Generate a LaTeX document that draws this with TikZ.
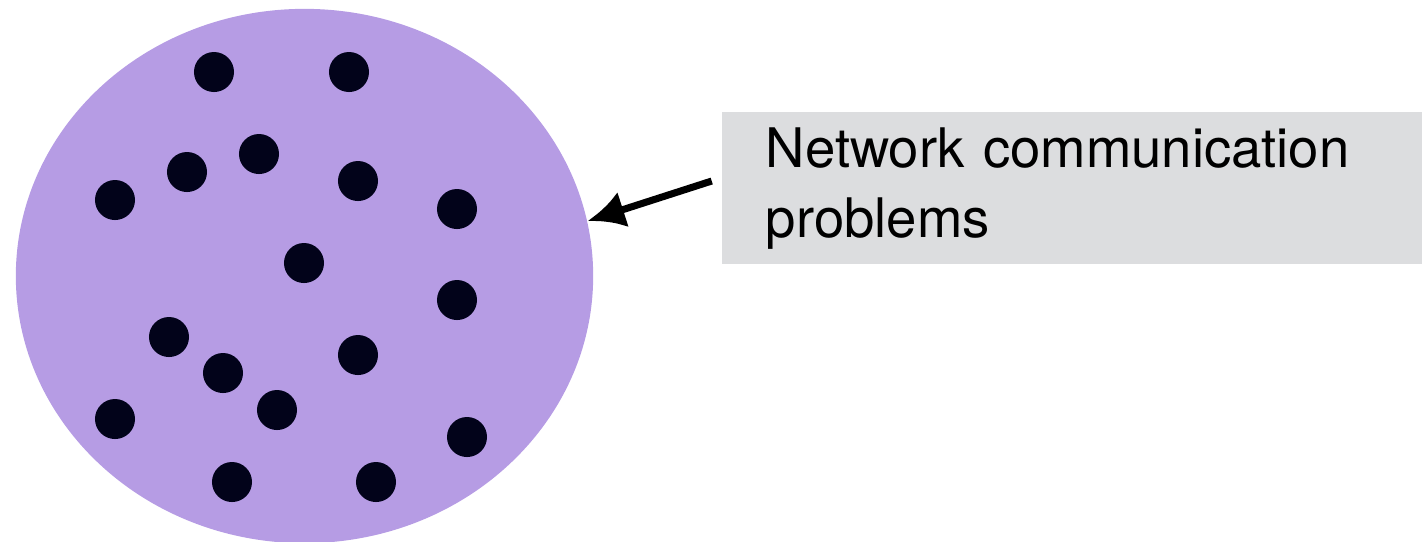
\documentclass[tikz,border=0pt]{standalone}
\usepackage{fontspec}
\setmainfont{TeX Gyre Heros}
\usetikzlibrary{arrows.meta,shapes.geometric}
\definecolor{netfill}{HTML}{B69CE4}
\definecolor{dotfill}{HTML}{02031A}
\definecolor{boxgray}{HTML}{DCDDDF}
\tikzset{
  host/.style={circle,fill=dotfill,minimum size=0.4cm,inner sep=0pt},
  labelbox/.style={fill=boxgray,minimum width=6.995cm,minimum height=1.517cm,
    text width=6.125cm,inner xsep=0.435cm,align=left,
    font=\fontsize{15.5}{19.9}\selectfont}
}
\begin{document}
\begin{tikzpicture}[x=0.01cm,y=-0.01cm]
\useasboundingbox (0,0) rectangle (1422,541);
\node[ellipse,fill=netfill,minimum width=5.77cm,minimum height=5.34cm,inner sep=0pt] (net) at (304.5,276) {};
\foreach \x/\y [count=\i] in {214/72,349/72,259/154,187/172,115/200,358/181,457/209,304/263,
  457/300,169/337,358/355,223/373,277/410,115/419,467/437,232/482,376/482}
  \node[host] (h\i) at (\x,\y) {};
\node[labelbox] (box) at (1072.25,188.2) {Network communication\\problems};
\coordinate (src) at (711.7,181);
\draw[line width=2pt,-{Latex[length=0.37cm,width=0.37cm]}] (src) -- (net.11);
\end{tikzpicture}
\end{document}
